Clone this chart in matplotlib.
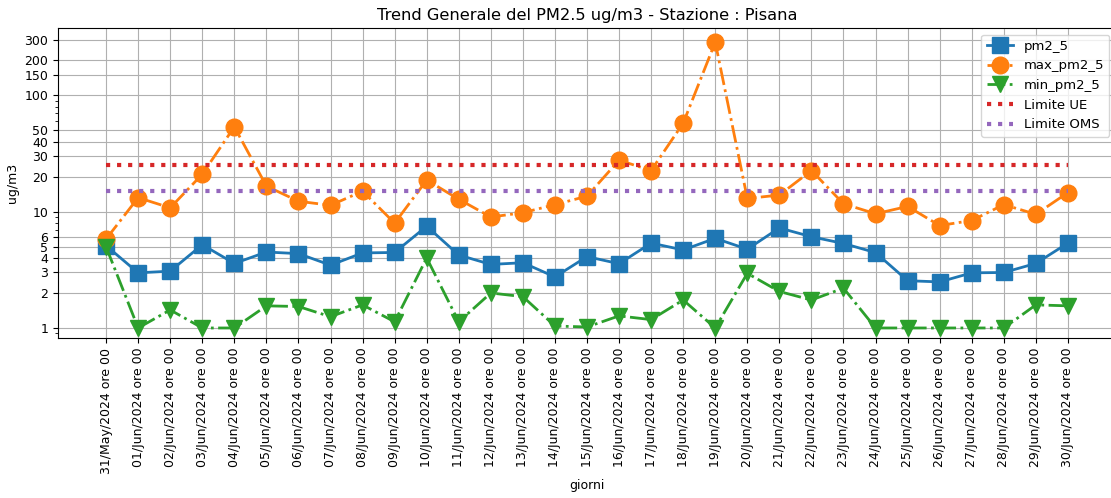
import matplotlib
matplotlib.use("Agg")
import matplotlib.pyplot as plt
from matplotlib.ticker import ScalarFormatter, NullFormatter

dates = ["31/May/2024 ore 00"] + ["%02d/Jun/2024 ore 00" % d for d in range(1, 31)]

pm2_5 = [5.1, 2.98, 3.08, 5.2, 3.59, 4.5, 4.36, 3.47, 4.42, 4.46,
         7.5, 4.24, 3.52, 3.64, 2.75, 4.11, 3.57, 5.37, 4.69, 5.9,
         4.76, 7.25, 6.09, 5.33, 4.45, 2.55, 2.49, 2.98, 3.0, 3.59, 5.37]
max_pm2_5 = [5.82, 13.2, 10.8, 21.0, 53.7, 16.6, 12.3, 11.35, 15.0, 7.97,
             18.7, 12.8, 9.0, 9.8, 11.5, 13.6, 27.7, 22.6, 57.7, 287,
             13.0, 13.9, 22.6, 11.7, 9.6, 11.1, 7.6, 8.4, 11.5, 9.5, 14.6]
min_pm2_5 = [4.98, 1.0, 1.43, 1.0, 1.0, 1.55, 1.53, 1.25, 1.58, 1.13,
             4.0, 1.13, 2.0, 1.86, 1.04, 1.02, 1.27, 1.18, 1.74, 1.0,
             2.95, 2.06, 1.74, 2.2, 1.0, 1.0, 1.0, 1.0, 1.0, 1.58, 1.55]
limite_ue = 25
limite_oms = 15
yticks = [1, 2, 3, 4, 5, 6, 10, 20, 30, 40, 50, 100, 150, 200, 300]

plt.rcParams["font.size"] = 9

fig = plt.figure(figsize=(11.11, 4.98), dpi=100)
ax = fig.add_axes([58/1111, 1-338/498, 1058/1111, 310/498])

x = list(range(len(dates)))
ax.plot(x, pm2_5, color="C0", linestyle="-", marker="s", markersize=12, linewidth=2, label="pm2_5")
ax.plot(x, max_pm2_5, color="C1", linestyle="-.", marker="o", markersize=12, linewidth=2, label="max_pm2_5")
ax.plot(x, min_pm2_5, color="C2", linestyle="-.", marker="v", markersize=12, linewidth=2, label="min_pm2_5")
ax.plot(x, [limite_ue]*len(x), color="C3", linestyle=":", linewidth=3, label="Limite UE")
ax.plot(x, [limite_oms]*len(x), color="C4", linestyle=":", linewidth=3, label="Limite OMS")

ax.set_yscale("log")
ax.set_yticks(yticks)
ax.yaxis.set_major_formatter(ScalarFormatter())
ax.yaxis.set_minor_formatter(NullFormatter())
ax.set_ylim(0.82, 380)
ax.set_xlim(-1.5, 31.5)
ax.set_xticks(x)
ax.set_xticklabels(dates, rotation=90)
ax.grid(True)
ax.set_title("Trend Generale del PM2.5 ug/m3 - Stazione : Pisana", fontsize=11.7)
ax.set_xlabel("giorni")
ax.set_ylabel("ug/m3")
ax.legend(loc="upper right", fontsize=9.5)

fig.savefig("out.png", dpi=100)
